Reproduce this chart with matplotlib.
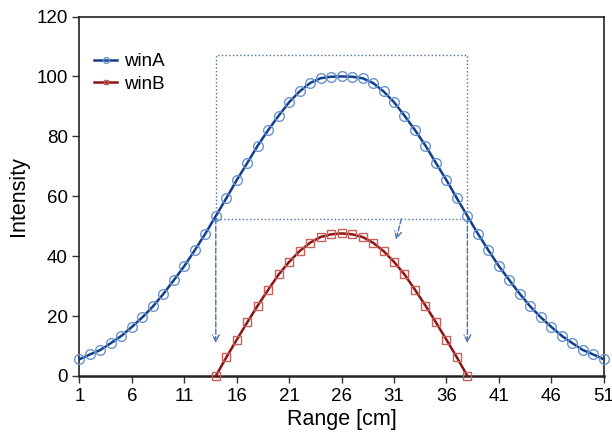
import numpy as np
import matplotlib
matplotlib.use('Agg')
import matplotlib.pyplot as plt

plt.rcParams['font.family'] = ['Liberation Sans', 'DejaVu Sans']

# data
xA = list(range(1, 52))
winA = [5.6, 7.2, 8.7, 11.0, 13.4, 16.4, 19.6, 23.2, 27.4, 32.0,
        36.7, 42.0, 47.5, 53.4, 59.3, 65.4, 71.1, 76.9, 82.1, 86.9,
        91.4, 95.0, 97.8, 99.4, 99.9, 100.0, 99.9, 99.4, 97.8, 95.0,
        91.4, 86.9, 82.1, 76.9, 71.1, 65.4, 59.3, 53.4, 47.5, 42.0,
        36.7, 32.0, 27.4, 23.2, 19.6, 16.4, 13.4, 11.0, 8.7, 7.2, 5.6]
xB = list(range(14, 39))
winB = [0.0, 6.2, 12.1, 17.9, 23.5, 28.8, 33.9, 38.1, 41.7, 44.5,
        46.4, 47.3, 47.6, 47.3, 46.4, 44.5, 41.7, 38.1, 33.9, 28.8,
        23.5, 17.9, 12.1, 6.2, 0.0]
xticks = list(range(1, 52, 5))
yticks = list(range(0, 121, 20))

# annotation box (window edges) and arrow ends
box_top = 107
box_bottom = 52.5
arrow_end = 11

fig = plt.figure(figsize=(6.12, 4.37), dpi=100)
ax = fig.add_axes([0.1299, 0.1396, 0.8565, 0.8226])

ax.plot(xA, winA, color='#123f8c', lw=1.8, marker='o', ms=7,
        mfc='none', mec='#6a93cf', mew=1.0, label='winA', clip_on=False, zorder=3)
ax.plot(xB, winB, color='#8e1414', lw=1.8, marker='s', ms=5.5,
        mfc='none', mec='#c8605d', mew=1.0, label='winB', clip_on=False, zorder=3)

# dotted window box
bl, br = xB[0], xB[-1]
ax.plot([bl, bl, br, br, bl], [box_bottom, box_top, box_top, box_bottom, box_bottom],
        color='#4f6f9f', lw=1.0, ls=':', zorder=2)

# dashed arrows
arrow = dict(arrowstyle='->', linestyle='--', color='#4a72b0', lw=1.0,
             shrinkA=0, shrinkB=0, mutation_scale=12)
ax.annotate('', xy=(bl, arrow_end), xytext=(bl, box_bottom), arrowprops=arrow)
ax.annotate('', xy=(br, arrow_end), xytext=(br, box_bottom), arrowprops=arrow)
ax.annotate('', xy=(31.2, 45.5), xytext=(31.7, box_bottom), arrowprops=arrow)

ax.set_xlim(1, 51)
ax.set_ylim(0, 120)
ax.set_xticks(xticks)
ax.set_yticks(yticks)
ax.tick_params(labelsize=13.5, direction='out', length=5, width=1, color='#333333')
for s in ax.spines.values():
    s.set_linewidth(1.2)
    s.set_color('#222222')
ax.spines['bottom'].set_linewidth(1.8)

ax.set_xlabel('Range [cm]', fontsize=15.5, labelpad=3)
ax.set_ylabel('Intensity', fontsize=15.5, labelpad=5)

ax.legend(loc='upper left', bbox_to_anchor=(0, 0.94), frameon=False,
          fontsize=13.5, handlelength=1.2, handletextpad=0.4, markerscale=0.6,
          labelspacing=0.3, borderaxespad=0.4)

fig.savefig('out.png', dpi=100)
